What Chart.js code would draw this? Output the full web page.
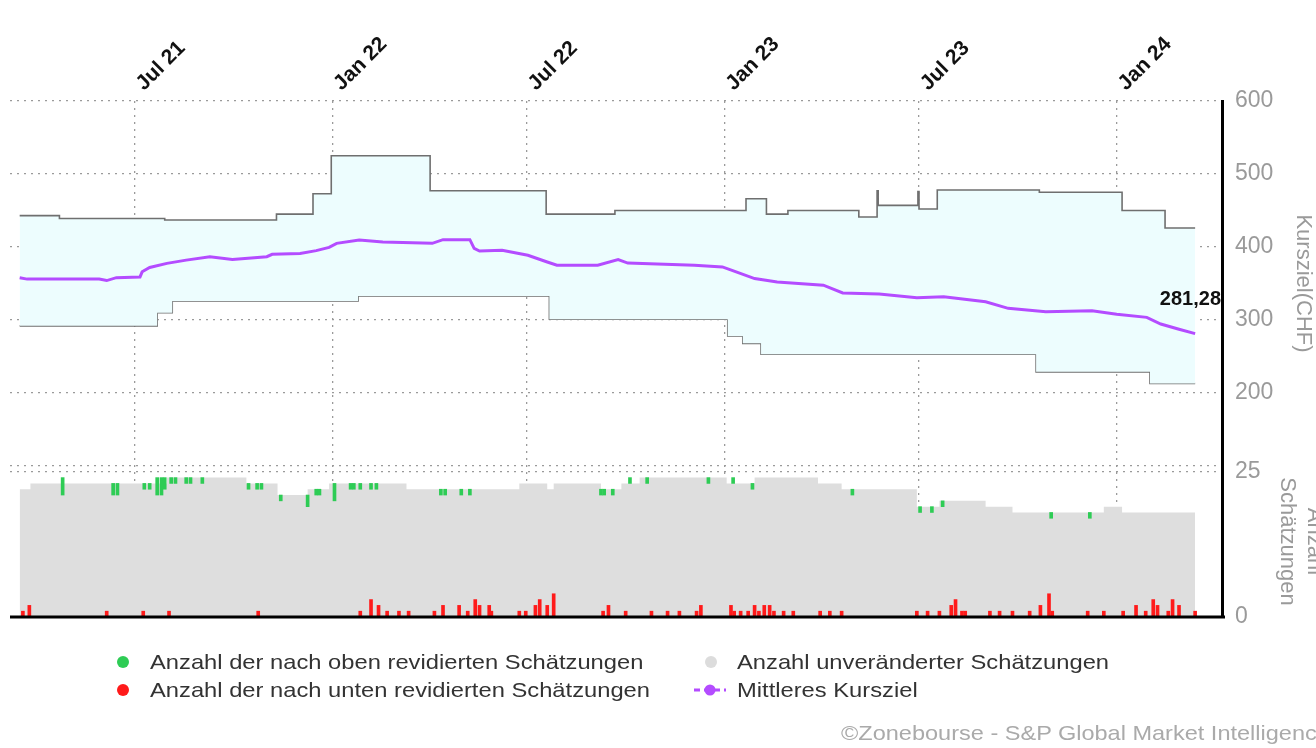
<!DOCTYPE html>
<html>
<head>
<meta charset="utf-8">
<script src="https://cdn.jsdelivr.net/npm/chart.js@4.4.1/dist/chart.umd.min.js"></script>
<style>
  html, body { margin: 0; padding: 0; background: #fff; overflow: hidden; width: 1316px; height: 748px; }
  #wrap { position: absolute; left: 0; top: 0; width: 1330px; height: 748px; }
  #c { display: block; }
  .li { position: absolute; height: 24px; line-height: 24px; font-family: "Liberation Sans", Arial, sans-serif; font-size: 21px; color: #333; white-space: nowrap; }
  .li span.t { display: inline-block; transform: scaleX(1.13); transform-origin: 0 50%; }
  .mk { position: absolute; top: 6px; width: 12px; height: 12px; border-radius: 50%; }
  #copy { position: absolute; left: 841px; top: 721px; font-family: "Liberation Sans", Arial, sans-serif; font-size: 21px; color: #aaa; white-space: nowrap; transform: scaleX(1.12); transform-origin: 0 50%; }
</style>
</head>
<body>
<div id="wrap"><canvas id="c" width="1330" height="748"></canvas></div>

<div class="li" style="left:150px; top:650px;"><span class="mk" style="left:-33px; background:#2ecc55;"></span><span class="t">Anzahl der nach oben revidierten Schätzungen</span></div>
<div class="li" style="left:150px; top:678px;"><span class="mk" style="left:-33px; background:#ff1a1a;"></span><span class="t">Anzahl der nach unten revidierten Schätzungen</span></div>
<div class="li" style="left:737px; top:650px;"><span class="mk" style="left:-32px; background:#dcdcdc;"></span><span class="t">Anzahl unveränderter Schätzungen</span></div>
<div class="li" style="left:737px; top:678px;"><svg style="position:absolute; left:-44px; top:4px;" width="34" height="16"><line x1="1" y1="8" x2="33" y2="8" stroke="#b44cff" stroke-width="3" stroke-dasharray="6,4"/><circle cx="17" cy="8" r="5.5" fill="#b44cff"/></svg><span class="t">Mittleres Kursziel</span></div>

<div id="copy">©Zonebourse - S&amp;P Global Market Intelligence</div>

<script>
// ---------- data ----------
const tickDates  = ['2021-07-01', '2022-01-01', '2022-07-01', '2023-01-01', '2023-07-01', '2024-01-01'];
const tickLabels = ['Jul 21', 'Jan 22', 'Jul 22', 'Jan 23', 'Jul 23', 'Jan 24'];
const rangeStart = '2021-03-07';
const rangeEnd   = '2024-04-08';

// highest analyst target (step changes)
const highDates  = ['2021-03-16','2021-04-22','2021-07-29','2021-11-10','2021-12-14','2021-12-31','2022-04-02','2022-07-19','2022-09-21','2023-01-21','2023-02-09','2023-03-01','2023-05-06','2023-05-23','2023-05-24','2023-06-30','2023-07-01','2023-07-18','2023-10-21','2024-01-06','2024-02-15','2024-03-14'];
const highValues = [443, 439, 437, 445, 473, 525, 477, 445, 450, 466, 445, 450, 441, 477, 457, 476, 452, 478, 475, 450, 426, 426];

// lowest analyst target (step changes)
const lowDates  = ['2021-03-16','2021-07-22','2021-08-05','2022-01-25','2022-07-22','2023-01-04','2023-01-18','2023-02-04','2023-10-18','2024-02-01','2024-03-14'];
const lowValues = [292, 310, 326, 333, 301, 278, 268, 253, 229, 213, 213];

// mean target price
const meanDates  = ['2021-03-16','2021-03-23','2021-05-29','2021-06-05','2021-06-14','2021-07-06','2021-07-08','2021-07-15','2021-07-31','2021-08-18','2021-09-09','2021-09-30','2021-11-01','2021-11-06','2021-12-02','2021-12-17','2021-12-29','2022-01-05','2022-01-26','2022-02-17','2022-04-04','2022-04-14','2022-05-09','2022-05-13','2022-05-18','2022-06-08','2022-07-02','2022-07-20','2022-07-29','2022-09-05','2022-09-24','2022-10-03','2022-12-04','2022-12-30','2023-01-08','2023-01-29','2023-02-19','2023-04-03','2023-04-21','2023-05-25','2023-06-29','2023-07-24','2023-09-01','2023-09-22','2023-10-27','2023-12-09','2024-01-01','2024-01-29','2024-02-11','2024-02-28','2024-03-14'];
const meanValues = [358, 356, 356, 354, 358, 359, 366, 372, 377.6, 382, 386.7, 383, 386.7, 390, 391, 395, 399.5, 405, 409.6, 407, 405, 410, 410, 398, 394.5, 395.5, 388.6, 379.5, 375, 375, 382.7, 378, 375, 372.7, 368, 356.8, 352, 347.7, 337, 335.5, 330.5, 332, 325, 316, 311.4, 312.7, 308, 303.6, 294.5, 287.3, 281.28];

// total number of estimates (step changes)
const countDates  = ['2021-03-16','2021-03-26','2021-07-31','2021-10-13','2021-11-11','2021-12-09','2021-12-29','2022-03-11','2022-06-24','2022-07-20','2022-07-26','2022-09-08','2022-09-27','2022-10-14','2023-01-03','2023-01-29','2023-03-29','2023-04-20','2023-06-29','2023-07-20','2023-09-01','2023-09-26','2023-12-20','2024-01-06','2024-03-14'];
const countValues = [22, 23, 24, 23, 21, 22, 23, 22, 23, 22, 23, 22, 23, 24, 23, 24, 23, 22, 19, 20, 19, 18, 19, 18, 18];

// upward revisions (from / to, in number of estimates)
const upDates = ['2021-04-25','2021-06-11','2021-06-15','2021-07-10','2021-07-15','2021-07-22','2021-07-26','2021-07-29','2021-08-04','2021-08-08','2021-08-18','2021-08-22','2021-09-02','2021-10-15','2021-10-23','2021-10-27','2021-11-14','2021-12-09','2021-12-17','2021-12-20','2022-01-03','2022-01-18','2022-01-21','2022-01-27','2022-02-06','2022-02-11','2022-04-12','2022-04-16','2022-05-01','2022-05-09','2022-09-08','2022-09-11','2022-09-19','2022-10-05','2022-10-21','2022-12-17','2023-01-09','2023-01-27','2023-04-30','2023-07-02','2023-07-13','2023-07-23','2023-11-01','2023-12-07'];
const upFrom  = [21, 21, 21, 22, 22, 21, 21, 22, 23, 23, 23, 23, 23, 22, 22, 22, 20, 19, 21, 21, 20, 22, 22, 22, 22, 22, 21, 21, 21, 21, 21, 21, 21, 23, 23, 23, 23, 22, 21, 18, 18, 19, 17, 17];
const upTo    = [24, 23, 23, 23, 23, 24, 24, 24, 24, 24, 24, 24, 24, 23, 23, 23, 21, 21, 22, 22, 23, 23, 23, 23, 23, 23, 22, 22, 22, 22, 22, 22, 22, 24, 24, 24, 24, 23, 22, 19, 19, 20, 18, 18];

// downward revisions
const downDates  = ['2021-03-19','2021-03-25','2021-06-05','2021-07-09','2021-08-02','2021-10-24','2022-01-27','2022-02-06','2022-02-13','2022-02-21','2022-03-04','2022-03-13','2022-04-06','2022-04-14','2022-04-29','2022-05-07','2022-05-14','2022-05-18','2022-05-27','2022-05-29','2022-06-24','2022-06-30','2022-07-09','2022-07-13','2022-07-20','2022-07-26','2022-09-10','2022-09-15','2022-10-01','2022-10-25','2022-11-09','2022-11-20','2022-12-06','2022-12-10','2023-01-07','2023-01-10','2023-01-16','2023-01-23','2023-01-29','2023-02-02','2023-02-07','2023-02-12','2023-02-16','2023-02-25','2023-03-06','2023-03-31','2023-04-09','2023-04-20','2023-06-29','2023-07-09','2023-07-20','2023-07-31','2023-08-04','2023-08-10','2023-08-13','2023-09-05','2023-09-14','2023-09-26','2023-10-12','2023-10-22','2023-10-30','2023-11-02','2023-12-05','2023-12-20','2024-01-07','2024-01-19','2024-01-28','2024-02-04','2024-02-08','2024-02-18','2024-02-22','2024-02-28','2024-03-14'];
const downCounts = [1, 2, 1, 1, 1, 1, 1, 3, 2, 1, 1, 1, 1, 2, 2, 1, 3, 2, 2, 1, 1, 1, 2, 3, 2, 4, 1, 2, 1, 1, 1, 1, 1, 2, 2, 1, 1, 1, 2, 1, 2, 2, 1, 1, 1, 1, 1, 1, 1, 1, 1, 2, 3, 1, 1, 1, 1, 1, 1, 2, 4, 1, 1, 1, 1, 2, 1, 3, 2, 1, 3, 2, 1];

const priceTicks = [100, 200, 300, 400, 500, 600];
const countTicks = [0, 25];

// ---------- helpers ----------
const day = s => Date.UTC(+s.slice(0, 4), +s.slice(5, 7) - 1, +s.slice(8, 10)) / 864e5;
const pts = (dates, vals) => dates.map((d, i) => ({ x: day(d), y: vals[i] }));
const tickMap = {};
tickDates.forEach((d, i) => { tickMap[day(d)] = tickLabels[i]; });

const FONT = '"Liberation Sans", Arial, sans-serif';
Chart.defaults.font.family = FONT;

const extras = {
  id: 'extras',
  afterDatasetsDraw(chart) {
    const { ctx, chartArea } = chart;
    const meta = chart.getDatasetMeta(2);
    const last = meta.data[meta.data.length - 1];
    const label = meanValues[meanValues.length - 1].toFixed(2).replace('.', ',');
    ctx.save();
    ctx.font = 'bold 20px ' + FONT;
    ctx.fillStyle = '#111';
    ctx.textAlign = 'right';
    ctx.textBaseline = 'middle';
    ctx.fillText(label, chartArea.right - 1, last.y - 34);
    ctx.restore();
  },
  afterDraw(chart) {
    const { ctx, chartArea } = chart;
    ctx.save();
    ctx.strokeStyle = '#000';
    ctx.lineWidth = 3;
    ctx.beginPath();
    ctx.moveTo(chartArea.left, chartArea.bottom);
    ctx.lineTo(chartArea.right + 3, chartArea.bottom);
    ctx.stroke();
    ctx.restore();
  }
};

const AXIS_W = 108;

new Chart(document.getElementById('c'), {
  type: 'line',
  data: {
    datasets: [
      { // 0 high
        data: pts(highDates, highValues), yAxisID: 'y', stepped: 'before',
        borderColor: '#6f6f6f', borderWidth: 1.6, pointRadius: 0,
        fill: '+1', backgroundColor: '#edfdfe', order: 1
      },
      { // 1 low
        data: pts(lowDates, lowValues), yAxisID: 'y', stepped: 'before',
        borderColor: '#6f6f6f', borderWidth: 1.6, pointRadius: 0, fill: false, order: 1
      },
      { // 2 mean
        data: pts(meanDates, meanValues), yAxisID: 'y',
        borderColor: '#b44cff', borderWidth: 3, pointRadius: 0, fill: false, tension: 0, order: 0
      },
      { // 3 total estimates
        data: pts(countDates, countValues), yAxisID: 'y2', stepped: 'before',
        borderWidth: 0, borderColor: 'rgba(0,0,0,0)', pointRadius: 0,
        fill: 'origin', backgroundColor: '#dedede', order: 3
      },
      { // 4 up revisions
        type: 'bar', yAxisID: 'y2', grouped: false,
        data: upDates.map((d, i) => ({ x: day(d), y: [upFrom[i], upTo[i]] })),
        backgroundColor: '#2ecc55', barThickness: 3, order: 2
      },
      { // 5 down revisions
        type: 'bar', yAxisID: 'y2', grouped: false,
        data: downDates.map((d, i) => ({ x: day(d), y: downCounts[i] })),
        backgroundColor: '#ff1a1a', barThickness: 3, order: 2
      }
    ]
  },
  options: {
    responsive: false,
    animation: false,
    events: [],
    layout: { padding: { left: 10, right: 0, top: 0, bottom: 131 } },
    plugins: { legend: { display: false }, tooltip: { enabled: false } },
    scales: {
      x: {
        type: 'linear', position: 'top', offset: false,
        min: day(rangeStart), max: day(rangeEnd),
        afterBuildTicks: s => { s.ticks = tickDates.map(d => ({ value: day(d) })); },
        afterFit: s => { s.height = 101; },
        ticks: {
          autoSkip: false, minRotation: 45, maxRotation: 45, padding: 5, labelOffset: 23,
          color: '#111', font: { size: 21, weight: 'bold' },
          callback: v => tickMap[v] || ''
        },
        grid: { color: '#9a9a9a', lineWidth: 1.3, drawTicks: false, offset: false },
        border: { display: false, dash: [2, 5] }
      },
      y: {
        type: 'linear', position: 'right', stack: 'panels', stackWeight: 365,
        min: 100, max: 600,
        afterBuildTicks: s => { s.ticks = priceTicks.map(v => ({ value: v })); },
        afterFit: s => { s.width = AXIS_W; },
        ticks: { padding: 13, color: '#9a9a9a', font: { size: 23 }, callback: v => (v === 100 ? '' : v) },
        grid: { color: '#9a9a9a', lineWidth: 1.3, drawTicks: false },
        border: { display: true, color: '#000', width: 3, dash: [2, 5] },
        title: { display: true, text: 'Kursziel(CHF)', color: '#9a9a9a', font: { size: 22 }, padding: { top: 14 } }
      },
      y2: {
        type: 'linear', position: 'right', stack: 'panels', stackWeight: 151,
        min: 0, max: 26,
        afterBuildTicks: s => { s.ticks = countTicks.map(v => ({ value: v })); },
        afterFit: s => { s.width = AXIS_W; },
        ticks: { padding: 13, color: '#9a9a9a', font: { size: 23 } },
        grid: { color: '#9a9a9a', lineWidth: 1.3, drawTicks: false },
        border: { display: true, color: '#000', width: 3, dash: [2, 5] },
        title: { display: true, text: ['Anzahl', 'Schätzungen'], color: '#9a9a9a', font: { size: 22 }, padding: { top: 3 } }
      }
    }
  },
  plugins: [extras]
});
</script>
</body>
</html>
